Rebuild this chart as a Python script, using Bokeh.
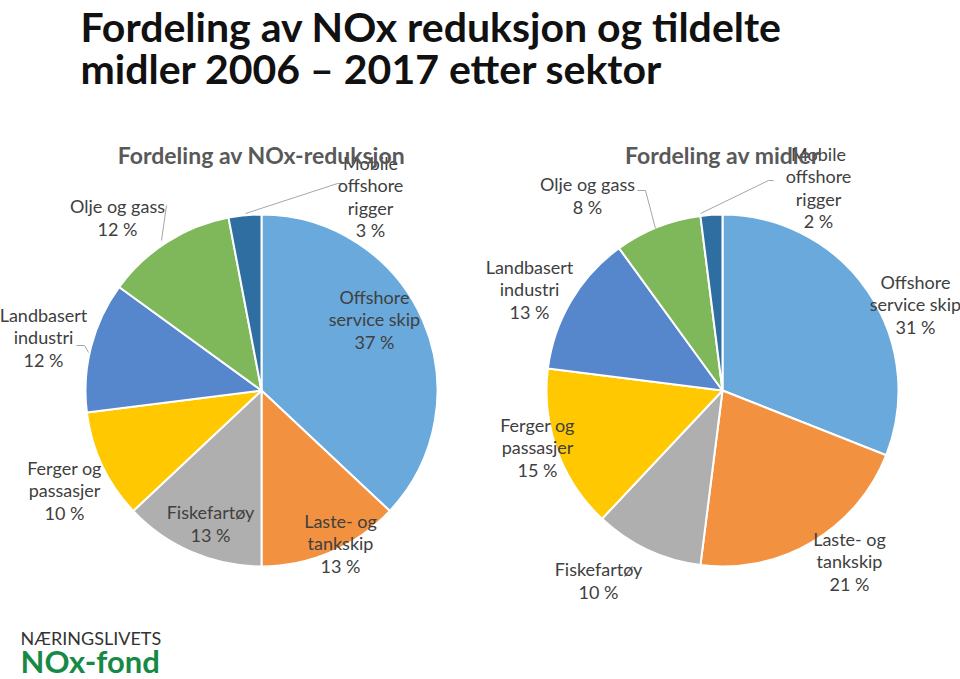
import numpy as np
from bokeh.plotting import figure
from bokeh.models import Range1d
from bokeh.core.properties import value
from bokeh.embed import file_html
from bokeh.resources import INLINE

# ---- data ----
categories = ["Offshore\nservice skip", "Laste- og\ntankskip", "Fiskefartøy", "Ferger og\npassasjer",
              "Landbasert\nindustri", "Olje og gass", "Mobile\noffshore\nrigger"]
nox_reduction = [37, 13, 13, 10, 12, 12, 3]
funds = [31, 21, 10, 15, 13, 8, 2]
colors = ["#6AA9DB", "#F29240", "#AFAFAF", "#FFC800", "#5686CC", "#7FB75B", "#2E6EA0"]

# ---- layout (image pixel coordinates) ----
W, H = 960, 679
def Y(y):
    return H - y

left_center = (261, 390)
right_center = (722, 390)
radius = 176

left_label_pos = [(374, 319), (340, 543), (210, 523), (64, 490), (43, 337), (117, 217), (370, 196)]
right_label_pos = [(915, 304), (849, 561), (598, 580), (537, 447), (529, 289), (587, 195), (818, 187)]

left_leaders = [[(245, 213), (337, 183), (342, 183)], [(166, 205), (161, 240)], [(76, 345), (84, 345), (88, 352)]]
right_leaders = [[(700, 213), (768, 180), (773, 180)], [(637, 190), (645, 190), (655, 228)]]

p = figure(width=W, height=H, output_backend="svg", toolbar_location=None,
           x_range=Range1d(0, W), y_range=Range1d(0, H), min_border=0)
p.axis.visible = False
p.grid.visible = False
p.outline_line_color = None
p.background_fill_color = "white"

def draw_pie(center, vals, label_pos, leaders):
    vals = np.array(vals, dtype=float)
    frac = vals / vals.sum()
    cum = np.concatenate([[0], np.cumsum(frac)])
    start = np.pi / 2 - 2 * np.pi * cum[1:]
    end = np.pi / 2 - 2 * np.pi * cum[:-1]
    p.wedge(x=center[0], y=Y(center[1]), radius=radius, radius_units="screen",
            start_angle=start, end_angle=end, direction="anticlock",
            fill_color=colors, line_color="white", line_width=2)
    for seg in leaders:
        p.line([s[0] for s in seg], [Y(s[1]) for s in seg], line_color="#A6A6A6", line_width=1)
    texts = [f"{c}\n{int(v)} %" for c, v in zip(categories, vals)]
    p.text(x=[lp[0] for lp in label_pos], y=[Y(lp[1]) for lp in label_pos], text=texts,
           text_align="center", text_baseline="middle", text_font=value("Lato"),
           text_font_size="18px", text_color="#404040", text_line_height=1.02)

draw_pie(left_center, nox_reduction, left_label_pos, left_leaders)
draw_pie(right_center, funds, right_label_pos, right_leaders)

# sub titles
p.text(x=[261, 722], y=[Y(154), Y(154)], text=["Fordeling av NOx-reduksjon", "Fordeling av midler"],
       text_align="center", text_baseline="middle", text_font=value("Lato"),
       text_font_style="bold", text_font_size="23px", text_color="#595959")

# main title
p.text(x=[80, 80], y=[Y(26), Y(68)], text=["Fordeling av NOx reduksjon og tildelte", "midler 2006 – 2017 etter sektor"],
       text_align="left", text_baseline="middle", text_font=value("Lato"), text_line_height=1.0,
       text_font_style="bold", text_font_size="41px", text_color="#111111")

# logo
p.text(x=[20], y=[Y(637)], text=["NÆRINGSLIVETS"], text_align="left", text_baseline="middle",
       text_font=value("Lato"), text_font_size="18px", text_color="#333333")
p.text(x=[20], y=[Y(660)], text=["NOx-fond"], text_align="left", text_baseline="middle",
       text_font=value("Lato"), text_font_style="bold", text_font_size="31px", text_color="#168A45")

open("out.html", "w").write(file_html(p, INLINE))
